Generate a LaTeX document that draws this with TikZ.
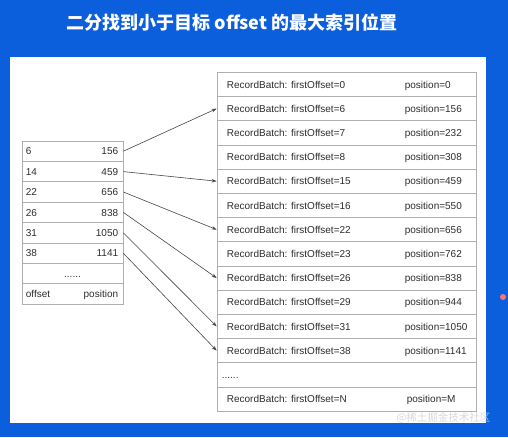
\documentclass[tikz,border=0pt]{standalone}
\usepackage{fontspec}
\setmainfont{Liberation Sans}
\newfontfamily\cjk{Noto Sans CJK SC}
\usetikzlibrary{arrows.meta}
\definecolor{bgblue}{RGB}{11,95,220}
\definecolor{gridgray}{RGB}{175,175,175}
\definecolor{txtgray}{RGB}{45,45,45}
\definecolor{arrgray}{RGB}{70,70,70}
\begin{document}
\begin{tikzpicture}[x=1pt,y=-1pt,
  batch/.style={draw=gridgray,line width=0.7pt,minimum width=259pt,minimum height=24.2pt,inner sep=0pt},
  idx/.style={draw=gridgray,line width=0.7pt,minimum width=101pt,minimum height=20.4pt,inner sep=0pt},
  lbl/.style={font=\fontsize{10}{12}\selectfont,text=txtgray,inner sep=0pt,text height=7.2pt,text depth=0pt},
  ptr/.style={draw=arrgray,line width=0.6pt,-{Stealth[length=5pt,width=3.5pt]}}]
  \fill[bgblue] (0,0) rectangle (508,437);
  \useasboundingbox (0,0) rectangle (508,437);
  \fill[white] (10,57) rectangle (486,423);
  \node[text=white,font=\cjk\bfseries\fontsize{18}{20}\selectfont] (title) at (232,23) {二分找到小于目标 offset 的最大索引位置};
  % record batches
  \foreach \i/\off/\pos in {0/0/0,1/6/156,2/7/232,3/8/308,4/15/459,5/16/550,
    6/22/656,7/23/762,8/26/838,9/29/944,10/31/1050,11/38/1141} {
    \node[batch] (r\i) at (346.5,{72.3+(\i+0.5)*24.2}) {};
    \node[lbl,anchor=west] (rl\i) at ([xshift=10pt]r\i.west) {RecordBatch: firstOffset=\off};
    \node[lbl,anchor=west] (rp\i) at ([xshift=188pt]r\i.west) {position=\pos};
  }
  \node[batch] (r12) at (346.5,{72.3+12.5*24.2}) {};
  \node[lbl,anchor=west] (rdots) at ([xshift=5pt]r12.west) {......};
  \node[batch] (r13) at (346.5,{72.3+13.5*24.2}) {};
  \node[lbl,anchor=west] (rl13) at ([xshift=10pt]r13.west) {RecordBatch: firstOffset=N};
  \node[lbl,anchor=west] (rp13) at ([xshift=190pt]r13.west) {position=M};
  % offset index
  \foreach \j/\off/\pos in {0/6/156,1/14/459,2/22/656,3/26/838,4/31/1050,5/38/1141} {
    \node[idx] (l\j) at (72.5,{141+(\j+0.5)*20.4}) {};
    \node[lbl,anchor=west] (lo\j) at ([xshift=4pt]l\j.west) {\off};
    \node[lbl,anchor=east] (lp\j) at ([xshift=-5pt]l\j.east) {\pos};
  }
  \node[idx] (l6) at (72.5,{141+6.5*20.4}) {};
  \node[lbl] (ldots) at (l6) {......};
  \node[idx] (l7) at (72.5,{141+7.5*20.4}) {};
  \node[lbl,anchor=west] (lo7) at ([xshift=4pt]l7.west) {offset};
  \node[lbl,anchor=east] (lp7) at ([xshift=-5pt]l7.east) {position};
  % pointers
  \foreach \a/\b in {0/1,1/4,2/6,3/8,4/10,5/11}
    \draw[ptr] (l\a.east) -- (r\b.west);
  \node[text=white!65!gray,opacity=0.85,font=\cjk\fontsize{10.5}{12}\selectfont,anchor=east] (mark) at (494,418) {@稀土掘金技术社区};
  \fill[red!55!white] (503,297) circle (3pt);
\end{tikzpicture}
\end{document}
